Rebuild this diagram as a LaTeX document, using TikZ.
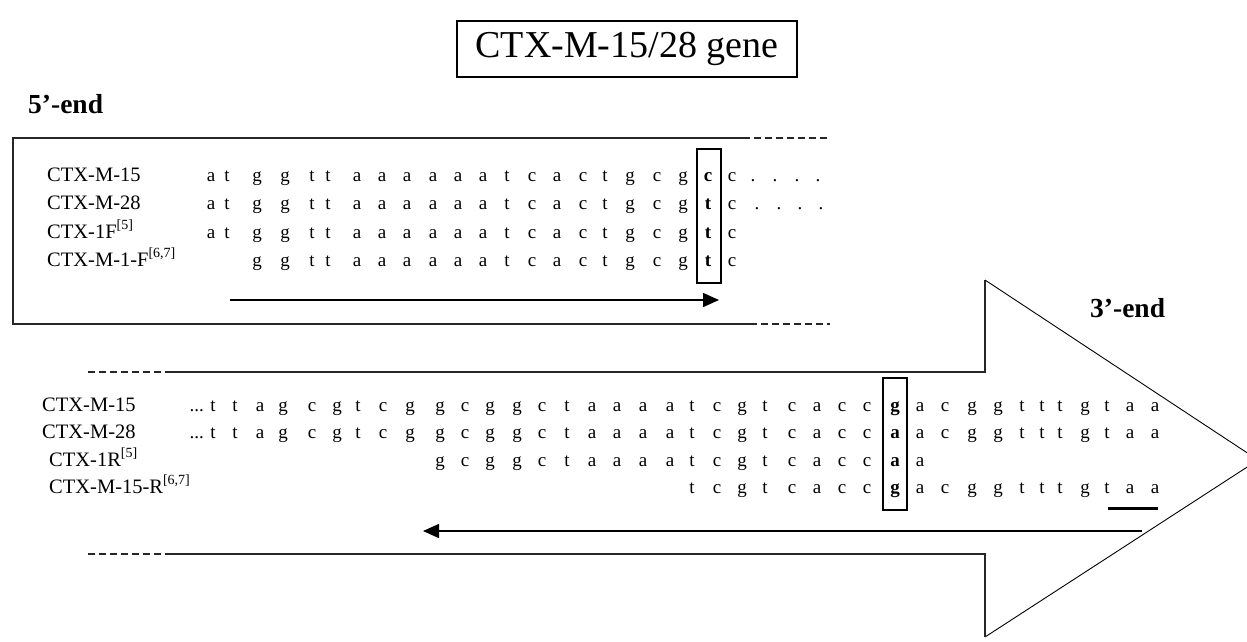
\documentclass[tikz,border=0pt]{standalone}
\usepackage{fontspec}
\setmainfont{Liberation Serif}
\usetikzlibrary{arrows.meta}
\newcommand\refsup[1]{\raisebox{0.42em}{\fontsize{14}{16}\selectfont #1}}
\tikzset{
  outline/.style={line width=1.3pt, draw=black!85},
  dashline/.style={line width=1.3pt, draw=black!85, dash pattern=on 7pt off 4pt},
  seq/.style={anchor=base, inner sep=0pt, font=\fontsize{19}{21}\selectfont},
  lbl/.style={anchor=base west, inner sep=0pt, font=\fontsize{20.5}{23}\selectfont},
  endlbl/.style={anchor=base west, inner sep=0pt, font=\fontsize{27.5}{31}\selectfont\bfseries},
  colbox/.style={draw, line width=1.2pt, inner sep=0pt},
  primer/.style={line width=1.5pt, -{Triangle[length=16pt,width=14pt]}}
}
\begin{document}
\begin{tikzpicture}[x=1pt,y=-1pt]
\useasboundingbox (0,0) rectangle (1247,641);
% title
\node[draw, line width=1.3pt, minimum width=340pt, minimum height=56pt, inner sep=0pt,
      font=\fontsize{38}{44}\selectfont] (title) at (627,49) {CTX-M-15/28 gene};
\node[endlbl] (five) at (28,113) {5’-end};
\node[endlbl] (three) at (1090,317) {3’-end};

% top box
\coordinate (bx1) at (743,138); \coordinate (bx2) at (13,138);
\coordinate (bx3) at (13,324); \coordinate (bx4) at (750,324);
\coordinate (bx5) at (830,138); \coordinate (bx6) at (830,324);
\draw[outline] (bx1) -- (bx2) -- (bx3) -- (bx4);
\draw[dashline] (bx1) -- (bx5);
\draw[dashline] (bx4) -- (bx6);

% big arrow
\coordinate (ar1) at (167,372); \coordinate (ar2) at (985,372);
\coordinate (ar3) at (985,280); \coordinate (ar4) at (1258,460);
\coordinate (ar5) at (985,637); \coordinate (ar6) at (985,554);
\coordinate (ar7) at (167,554);
\coordinate (ad1) at (88,372); \coordinate (ad2) at (88,554);
\draw[outline] (ar1) -- (ar2) -- (ar3);
\draw[line width=0.9pt] (ar3) -- (ar4) -- (ar5);
\draw[outline] (ar5) -- (ar6) -- (ar7);
\draw[dashline] (ad1) -- (ar1);
\draw[dashline] (ad2) -- (ar7);

% top labels
\node[lbl] (l1) at (47,181) {CTX-M-15};
\node[lbl] (l2) at (47,209.5) {CTX-M-28};
\node[lbl] (l3) at (47,238) {CTX-1F\refsup{[5]}};
\node[lbl] (l4) at (47,266) {CTX-M-1-F\refsup{[6,7]}};

% top sequences
\def\TX{{0,211,227,257,285,312,328,357,382,407,433,458,483,507,532,557,583,605,630,657,683,708,732}}
\foreach \l [count=\i] in {a,t,g,g,t,t,a,a,a,a,a,a,t,c,a,c,t,g,c,g,\textbf{c},c}
  {\pgfmathsetmacro\xx{\TX[\i]}\node[seq] (tA\i) at (\xx,181) {\l};}
\foreach \l [count=\i] in {a,t,g,g,t,t,a,a,a,a,a,a,t,c,a,c,t,g,c,g,\textbf{t},c}
  {\pgfmathsetmacro\xx{\TX[\i]}\node[seq] (tB\i) at (\xx,209.5) {\l};}
\foreach \l [count=\i] in {a,t,g,g,t,t,a,a,a,a,a,a,t,c,a,c,t,g,c,g,\textbf{t},c}
  {\pgfmathsetmacro\xx{\TX[\i]}\node[seq] (tC\i) at (\xx,238) {\l};}
\foreach \l [count=\i from 3] in {g,g,t,t,a,a,a,a,a,a,t,c,a,c,t,g,c,g,\textbf{t},c}
  {\pgfmathsetmacro\xx{\TX[\i]}\node[seq] (tD\i) at (\xx,266) {\l};}
\foreach \x [count=\i] in {753,775,797,818}
  {\node[seq] (dotA\i) at (\x,181) {.};}
\foreach \x [count=\i] in {757,779,800,821}
  {\node[seq] (dotB\i) at (\x,209.5) {.};}
\node[colbox, minimum width=24pt, minimum height=134pt] (boxtop) at (709,216) {};
\coordinate (fa1) at (230,300); \coordinate (fa2) at (719,300);
\draw[primer] (fa1) -- (fa2);

% bottom labels
\node[lbl] (m1) at (42,411) {CTX-M-15};
\node[lbl] (m2) at (42,438.5) {CTX-M-28};
\node[lbl] (m3) at (49,466) {CTX-1R\refsup{[5]}};
\node[lbl] (m4) at (49,493.5) {CTX-M-15-R\refsup{[6,7]}};

% bottom sequences
\def\BX{{0,213,235,260,283,312,337,358,383,410,440,465,490,517,542,567,592,617,643,670,692,717,742,765,792,817,842,867,895,920,945,972,998,1022,1042,1060,1085,1107,1130,1155}}
\node[seq, anchor=base east] (dots1) at (204,411) {...};
\node[seq, anchor=base east] (dots2) at (204,438.5) {...};
\foreach \l [count=\i] in {t,t,a,g,c,g,t,c,g,g,c,g,g,c,t,a,a,a,a,t,c,g,t,c,a,c,c,\textbf{g},a,c,g,g,t,t,t,g,t,a,a}
  {\pgfmathsetmacro\xx{\BX[\i]}\node[seq] (bA\i) at (\xx,411) {\l};}
\foreach \l [count=\i] in {t,t,a,g,c,g,t,c,g,g,c,g,g,c,t,a,a,a,a,t,c,g,t,c,a,c,c,\textbf{a},a,c,g,g,t,t,t,g,t,a,a}
  {\pgfmathsetmacro\xx{\BX[\i]}\node[seq] (bB\i) at (\xx,438.5) {\l};}
\foreach \l [count=\i from 10] in {g,c,g,g,c,t,a,a,a,a,t,c,g,t,c,a,c,c,\textbf{a},a}
  {\pgfmathsetmacro\xx{\BX[\i]}\node[seq] (bC\i) at (\xx,466) {\l};}
\foreach \l [count=\i from 20] in {t,c,g,t,c,a,c,c,\textbf{g},a,c,g,g,t,t,t,g,t,a,a}
  {\pgfmathsetmacro\xx{\BX[\i]}\node[seq] (bD\i) at (\xx,493.5) {\l};}
\node[colbox, minimum width=24pt, minimum height=132pt] (boxbot) at (895,444) {};
\coordinate (ul1) at (1108,508); \coordinate (ul2) at (1158,508);
\draw[line width=3pt] (ul1) -- (ul2);
\coordinate (ra1) at (1142,531); \coordinate (ra2) at (423,531);
\draw[primer] (ra1) -- (ra2);
\end{tikzpicture}
\end{document}
